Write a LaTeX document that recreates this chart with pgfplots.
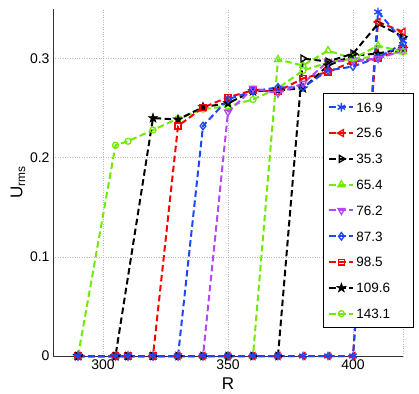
\documentclass[border=0pt]{standalone}
\usepackage{fontspec}
\setmainfont{Liberation Sans}
\usepackage{pgfplots}
\pgfplotsset{compat=1.18}
\usetikzlibrary{plotmarks}
\definecolor{cblue}{RGB}{30,70,255}
\definecolor{cred}{RGB}{255,0,0}
\definecolor{cgreen}{RGB}{110,235,0}
\definecolor{cpurple}{RGB}{180,70,255}
\pgfdeclareplotmark{pstar}{%
 \pgfpathmoveto{\pgfpointpolar{90}{\pgfplotmarksize}}%
 \pgfpathlineto{\pgfpointpolar{126}{0.382\pgfplotmarksize}}%
 \pgfpathlineto{\pgfpointpolar{162}{\pgfplotmarksize}}%
 \pgfpathlineto{\pgfpointpolar{198}{0.382\pgfplotmarksize}}%
 \pgfpathlineto{\pgfpointpolar{234}{\pgfplotmarksize}}%
 \pgfpathlineto{\pgfpointpolar{270}{0.382\pgfplotmarksize}}%
 \pgfpathlineto{\pgfpointpolar{306}{\pgfplotmarksize}}%
 \pgfpathlineto{\pgfpointpolar{342}{0.382\pgfplotmarksize}}%
 \pgfpathlineto{\pgfpointpolar{18}{\pgfplotmarksize}}%
 \pgfpathlineto{\pgfpointpolar{54}{0.382\pgfplotmarksize}}%
 \pgfpathclose
 \pgfusepathqfillstroke
}
\begin{document}
\begin{tikzpicture}
\begin{axis}[
 at={(0,0)}, anchor=south west,
 scale only axis, width=350pt, height=347pt,
 xmin=280, xmax=420, ymin=0, ymax=0.35,
 axis x line*=bottom, axis y line*=left,
 axis line style={black!80, line width=0.8pt, -},
 xtick={300,350,400}, ytick={0,0.1,0.2,0.3}, yticklabels={0,0.1,0.2,0.3},
 extra x ticks={420}, extra x tick labels={}, extra x tick style={grid=major},
 major tick length=0pt,
 grid=major, grid style={gray!55, dotted, line width=0.6pt},
 tick label style={font=\fontsize{14}{14}\selectfont},
 /pgf/number format/assume math mode=true,
 xlabel={R}, ylabel={U\textsubscript{rms}},
 label style={font=\fontsize{17}{17}\selectfont},
 xlabel style={at={(axis description cs:0.5,0)}, anchor=base, yshift=-33.5pt},
 ylabel style={yshift=-2pt},
 clip=false,
 reverse legend,
 legend cell align=left,
 legend image code/.code={\draw[mark repeat=2,mark phase=2,#1] plot coordinates {(0pt,0pt) (12pt,0pt) (24pt,0pt)};},
 legend style={at={(rel axis cs:0.7714,0.758)}, anchor=north west, draw=black, line width=0.8pt, fill=white,
   font=\fontsize{13.5}{13.5}\selectfont, row sep=12pt, inner xsep=5pt, inner ysep=7pt,
   nodes={inner sep=2pt, text height=9.8pt, text depth=0pt, text width=50pt}},
 every axis plot/.append style={line width=2pt, dash pattern=on 6.5pt off 3.5pt},
]
% 143.1
\addplot[cgreen, mark=o, mark size=3pt, mark options={solid, line width=1.3pt}] coordinates {
(290,0) (305,0.2126) (310,0.2166) (320,0.228) (330,0.2395) (340,0.249) (350,0.252) (360,0.2587) (370,0.270) (380,0.288) (390,0.296) (400,0.300) (410,0.302) (420,0.307)};
\addlegendentry{143.1}
% 109.6
\addplot[black, mark=pstar, mark size=5pt, mark options={solid, line width=0.5pt, fill=black}] coordinates {
(290,0) (305,0) (320,0.240) (330,0.2385) (340,0.251) (350,0.255) (360,0.267) (370,0.268) (380,0.270) (390,0.293) (400,0.303) (410,0.305) (420,0.310)};
\addlegendentry{109.6}
% 98.5
\addplot[cred, mark=square, mark size=2.9pt, mark options={solid, line width=1.3pt}] coordinates {
(290,0) (305,0) (310,0) (320,0) (330,0.232) (340,0.2506) (350,0.261) (360,0.268) (370,0.267) (380,0.280) (390,0.2865) (400,0.297) (410,0.300) (420,0.310)};
\addlegendentry{98.5}
% 87.3
\addplot[cblue, mark=diamond, mark size=3.8pt, mark options={solid, line width=1.3pt}] coordinates {
(290,0) (305,0) (310,0) (320,0) (330,0) (340,0.232) (350,0.259) (360,0.267) (370,0.271) (380,0.271) (390,0.288) (400,0.292) (410,0.301) (420,0.315)};
\addlegendentry{87.3}
% 76.2
\addplot[cpurple, mark=triangle, mark size=4pt, mark options={solid, line width=1.3pt, rotate=180}] coordinates {
(290,0) (305,0) (310,0) (320,0) (330,0) (340,0) (350,0.246) (360,0.270) (370,0.265) (380,0.275) (390,0.297) (400,0.298) (410,0.300) (420,0.308)};
\addlegendentry{76.2}
% 65.4
\addplot[cgreen, mark=triangle, mark size=4pt, mark options={solid, line width=1.3pt}] coordinates {
(290,0) (305,0) (310,0) (320,0) (330,0) (340,0) (350,0) (360,0) (370,0.299) (380,0.293) (390,0.308) (400,0.300) (410,0.313) (420,0.307)};
\addlegendentry{65.4}
% 35.3
\addplot[black, mark=triangle, mark size=4pt, mark options={solid, line width=1.3pt, rotate=-90}] coordinates {
(290,0) (305,0) (310,0) (320,0) (330,0) (340,0) (350,0) (360,0) (370,0) (380,0.300) (390,0.297) (400,0.305) (410,0.335) (420,0.322)};
\addlegendentry{35.3}
% 25.6
\addplot[cred, mark=triangle, mark size=4pt, mark options={solid, line width=1.3pt, rotate=90}] coordinates {
(290,0) (305,0) (310,0) (320,0) (330,0) (340,0) (350,0) (360,0) (370,0) (380,0) (390,0) (400,0) (410,0.337) (420,0.327)};
\addlegendentry{25.6}
% 16.9
\addplot[cblue, mark=asterisk, mark size=4.3pt, mark options={solid, line width=1.4pt}] coordinates {
(290,0) (305,0) (310,0) (320,0) (330,0) (340,0) (350,0) (360,0) (370,0) (380,0) (390,0) (400,0) (410,0.347) (420,0.318)};
\addlegendentry{16.9}
\end{axis}
\pgfresetboundingbox
\path (-53pt,-37pt) rectangle (366pt,356pt);
\end{tikzpicture}
\end{document}
